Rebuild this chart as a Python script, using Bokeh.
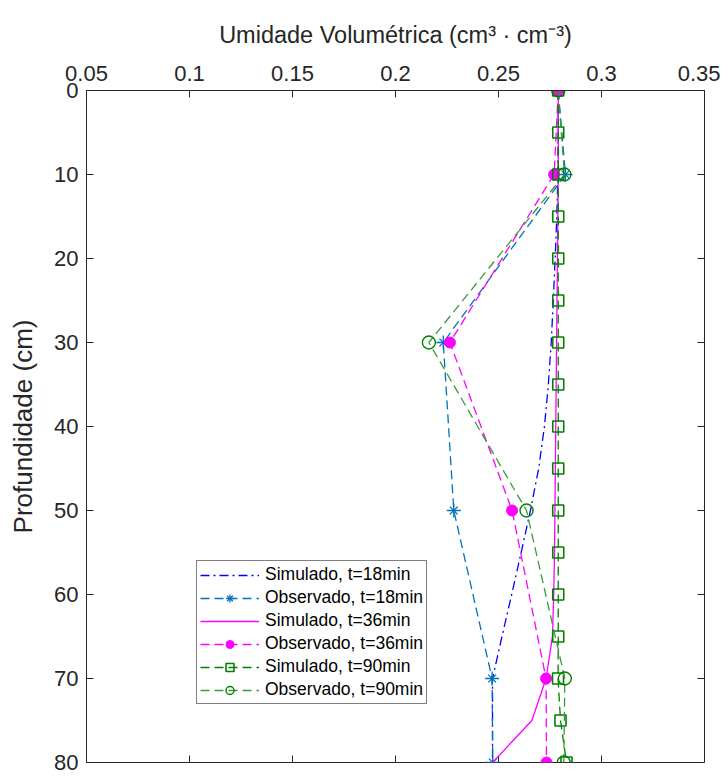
import math
from bokeh.plotting import figure
from bokeh.models import Range1d, FixedTicker, Legend, LegendItem
from bokeh.embed import file_html
from bokeh.resources import INLINE

# ---- data ----
depth_sim = [0, 5, 10, 15, 20, 25, 30, 35, 40, 45, 50, 55, 60, 65, 70, 75, 80]
depth_obs = [0, 10, 30, 50, 70, 80]

sim_18 = [0.279, 0.279, 0.2788, 0.2783, 0.2775, 0.2766, 0.2756, 0.2742, 0.2723, 0.2695,
          0.2655, 0.2610, 0.2564, 0.2517, 0.2471, 0.2471, 0.2471]
obs_18 = [0.279, 0.2825, 0.2232, 0.2283, 0.2469, 0.2472]

sim_36 = [0.279, 0.279, 0.279, 0.2788, 0.2786, 0.2784, 0.2782, 0.2780, 0.2778, 0.2776,
          0.2774, 0.2772, 0.2768, 0.2762, 0.2731, 0.2662, 0.2471]
obs_36 = [0.279, 0.2770, 0.2264, 0.2566, 0.2731, 0.2733]

sim_90 = [0.279, 0.279, 0.279, 0.279, 0.279, 0.279, 0.279, 0.279, 0.279, 0.279,
          0.279, 0.279, 0.279, 0.279, 0.2789, 0.2801, 0.2830]
obs_90 = [0.279, 0.2820, 0.2162, 0.2636, 0.2822, 0.2817]

x_ticks = [0.05, 0.1, 0.15, 0.2, 0.25, 0.3, 0.35]
y_ticks = [0, 10, 20, 30, 40, 50, 60, 70, 80]
labels = ["Simulado, t=18min", "Observado, t=18min", "Simulado, t=36min",
          "Observado, t=36min", "Simulado, t=90min", "Observado, t=90min"]

FONT = "Liberation Sans"
AX = "#262626"
X_MIN, X_MAX = 0.05, 0.35
Y_TOP, Y_BOT = 0, 80

p = figure(width=720, height=776, output_backend="svg", toolbar_location=None,
           x_range=Range1d(X_MIN, X_MAX), y_range=Range1d(Y_BOT, Y_TOP),
           x_axis_location="above", y_axis_location="left",
           min_border_left=86, min_border_right=16, min_border_top=90, min_border_bottom=14)
p.grid.visible = False
p.outline_line_color = AX
p.outline_line_width = 1
p.background_fill_color = "white"
p.border_fill_color = "white"

xa = p.xaxis[0]
xa.ticker = FixedTicker(ticks=x_ticks)
xa.axis_label = "Umidade Volumétrica (cm³ · cm⁻³)"
ya = p.yaxis[0]
ya.ticker = FixedTicker(ticks=y_ticks)
ya.axis_label = "Profundidade (cm)"
for ax in (xa, ya):
    ax.major_label_text_font = FONT
    ax.major_label_text_font_size = "22px"
    ax.major_label_text_color = AX
    ax.axis_label_text_font = FONT
    ax.axis_label_text_font_style = "normal"
    ax.axis_label_text_color = AX
    ax.axis_line_color = AX
    ax.major_tick_line_color = AX
    ax.major_tick_in = 7
    ax.major_tick_out = 0
    ax.minor_tick_line_color = None
xa.axis_label_text_font_size = "23.5px"
ya.axis_label_text_font_size = "26px"
xa.major_label_standoff = 10
xa.axis_label_standoff = 15
ya.major_label_standoff = 8
ya.axis_label_standoff = 13

# mirrored tick marks on bottom and right edges (box on)
p.ray(x=x_ticks, y=[Y_BOT] * len(x_ticks), length=7, length_units="screen",
      angle=math.pi / 2, line_color=AX, line_width=1)
p.ray(x=[X_MAX] * len(y_ticks), y=y_ticks, length=7, length_units="screen",
      angle=math.pi, line_color=AX, line_width=1)

BLUE = "#0000FF"
LBLUE = "#0072BD"
MAG = "#FF00FF"
GREEN = "#008000"
GREEN2 = "#3A9A3A"
LW = 1.3
DASH = "9 5"

r1 = p.line(sim_18, depth_sim, line_color=BLUE, line_width=LW, line_dash="9 4 2 4")

r2l = p.line(obs_18, depth_obs, line_color=LBLUE, line_width=LW, line_dash=DASH)
r2a = p.scatter(obs_18, depth_obs, marker="cross", size=14, line_color=LBLUE, line_width=1.3)
r2b = p.scatter(obs_18, depth_obs, marker="x", size=11, line_color=LBLUE, line_width=1.3)

r3 = p.line(sim_36, depth_sim, line_color=MAG, line_width=LW)

r4l = p.line(obs_36, depth_obs, line_color=MAG, line_width=LW, line_dash=DASH)
r4m = p.scatter(obs_36, depth_obs, marker="circle", size=11, fill_color=MAG, line_color=MAG)

r5l = p.line(sim_90, depth_sim, line_color=GREEN, line_width=LW, line_dash=DASH)
r5m = p.scatter(sim_90, depth_sim, marker="square", size=11, fill_color=None,
                line_color=GREEN, line_width=1.6)

r6l = p.line(obs_90, depth_obs, line_color=GREEN2, line_width=LW, line_dash=DASH)
r6m = p.scatter(obs_90, depth_obs, marker="circle", size=13, fill_color=None,
                line_color=GREEN, line_width=1.4)

items = [
    LegendItem(label=labels[0], renderers=[r1]),
    LegendItem(label=labels[1], renderers=[r2l, r2a, r2b]),
    LegendItem(label=labels[2], renderers=[r3]),
    LegendItem(label=labels[3], renderers=[r4l, r4m]),
    LegendItem(label=labels[4], renderers=[r5l, r5m]),
    LegendItem(label=labels[5], renderers=[r6l, r6m]),
]
legend = Legend(items=items, location=(110, 58), label_text_font=FONT,
                label_text_font_size="17.5px", label_text_color="black",
                label_text_line_height=1.0,
                border_line_color="black", border_line_width=1,
                background_fill_color="white", background_fill_alpha=1,
                glyph_width=59, glyph_height=20, label_height=20,
                spacing=2, padding=3, margin=0, label_standoff=6)
p.add_layout(legend, "center")

open("out.html", "w").write(file_html(p, INLINE))
